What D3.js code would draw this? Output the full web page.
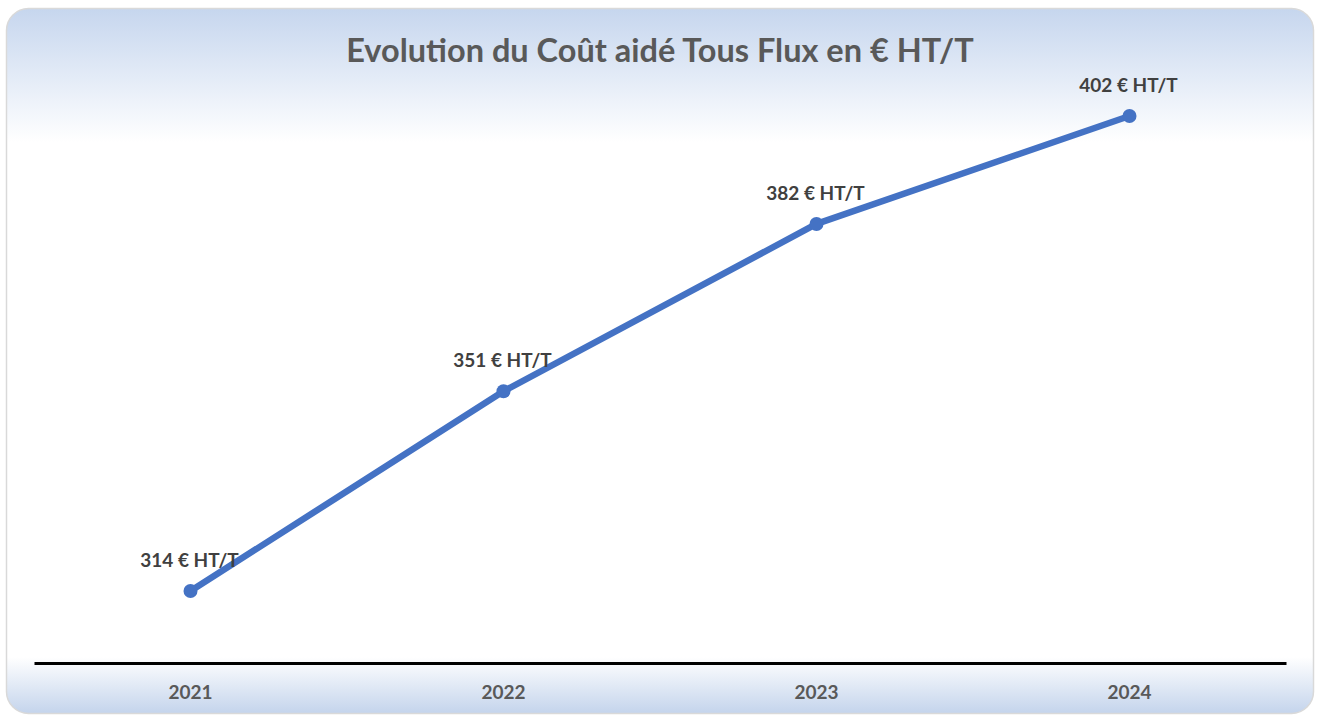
<!DOCTYPE html>
<html>
<head>
<meta charset="utf-8">
<script src="https://cdn.jsdelivr.net/npm/d3@7"></script>
<style>
  body { margin: 0; background: #fff; }
  svg { display: block; font-family: Lato, "Open Sans", sans-serif; }
</style>
</head>
<body>
<div id="chart"></div>
<script>
// data
const years = ["2021", "2022", "2023", "2024"];
const cost = [314, 351, 382, 402];
const valueLabels = ["314 € HT/T", "351 € HT/T", "382 € HT/T", "402 € HT/T"];
const title = "Evolution du Coût aidé Tous Flux en € HT/T";

const W = 1320, H = 715;

const svg = d3.select("#chart")
	.append("svg")
		.attr("width", W)
		.attr("height", H)
		.attr("viewBox", [0, 0, W, H]);

const defs = svg.append("defs");
const grad = defs.append("linearGradient")
	.attr("id", "bg")
	.attr("x1", 0).attr("y1", 0).attr("x2", 0).attr("y2", 1);
grad.append("stop").attr("offset", "0%").attr("stop-color", "#c6d6ee");
grad.append("stop").attr("offset", "19%").attr("stop-color", "#ffffff");
grad.append("stop").attr("offset", "92%").attr("stop-color", "#ffffff");
grad.append("stop").attr("offset", "100%").attr("stop-color", "#c4d4ec");

// panel
svg.append("rect")
	.attr("x", 6.5).attr("y", 8.5)
	.attr("width", 1307).attr("height", 705)
	.attr("rx", 22).attr("ry", 22)
	.attr("fill", "url(#bg)")
	.attr("stroke", "#d9d9d9")
	.attr("stroke-width", 1.5);

// title
svg.append("text")
	.attr("x", 660)
	.attr("y", 62)
	.attr("text-anchor", "middle")
	.style("font-size", "32.5px")
	.style("font-weight", "bold")
	.style("fill", "#595959")
	.text(title);

const x = d3.scaleBand()
	.domain(years)
	.range([34, 1286]);

const y = d3.scaleLinear()
	.domain([300, 420])
	.range([666.6, 18.8]);

// x axis
const xAxis = svg.append("g")
	.attr("transform", "translate(0,663)")
	.call(d3.axisBottom(x).tickSize(0).tickPadding(23));
xAxis.select(".domain")
	.attr("stroke", "#000")
	.attr("stroke-width", 3);
xAxis.selectAll("text")
	.style("font-family", "Lato, 'Open Sans', sans-serif")
	.style("font-size", "19px")
	.style("font-weight", "bold")
	.style("fill", "#595959");

const pts = years.map((yr, i) => ({ year: yr, v: cost[i], label: valueLabels[i] }));
const cx = d => x(d.year) + x.bandwidth() / 2;

// line
svg.append("path")
	.datum(pts)
	.attr("fill", "none")
	.attr("stroke", "#4472c4")
	.attr("stroke-width", 6.5)
	.attr("stroke-linejoin", "round")
	.attr("d", d3.line().x(cx).y(d => y(d.v)));

// markers
svg.selectAll(".dot")
	.data(pts)
	.join("circle")
	.attr("class", "dot")
	.attr("cx", cx)
	.attr("cy", d => y(d.v))
	.attr("r", 7)
	.attr("fill", "#4472c4");

// value labels
svg.selectAll(".lbl")
	.data(pts)
	.join("text")
	.attr("class", "lbl")
	.attr("x", d => cx(d) - 1)
	.attr("y", d => y(d.v) - 24)
	.attr("text-anchor", "middle")
	.style("font-size", "19px")
	.style("font-weight", "bold")
	.style("fill", "#404040")
	.text(d => d.label);
</script>
</body>
</html>
